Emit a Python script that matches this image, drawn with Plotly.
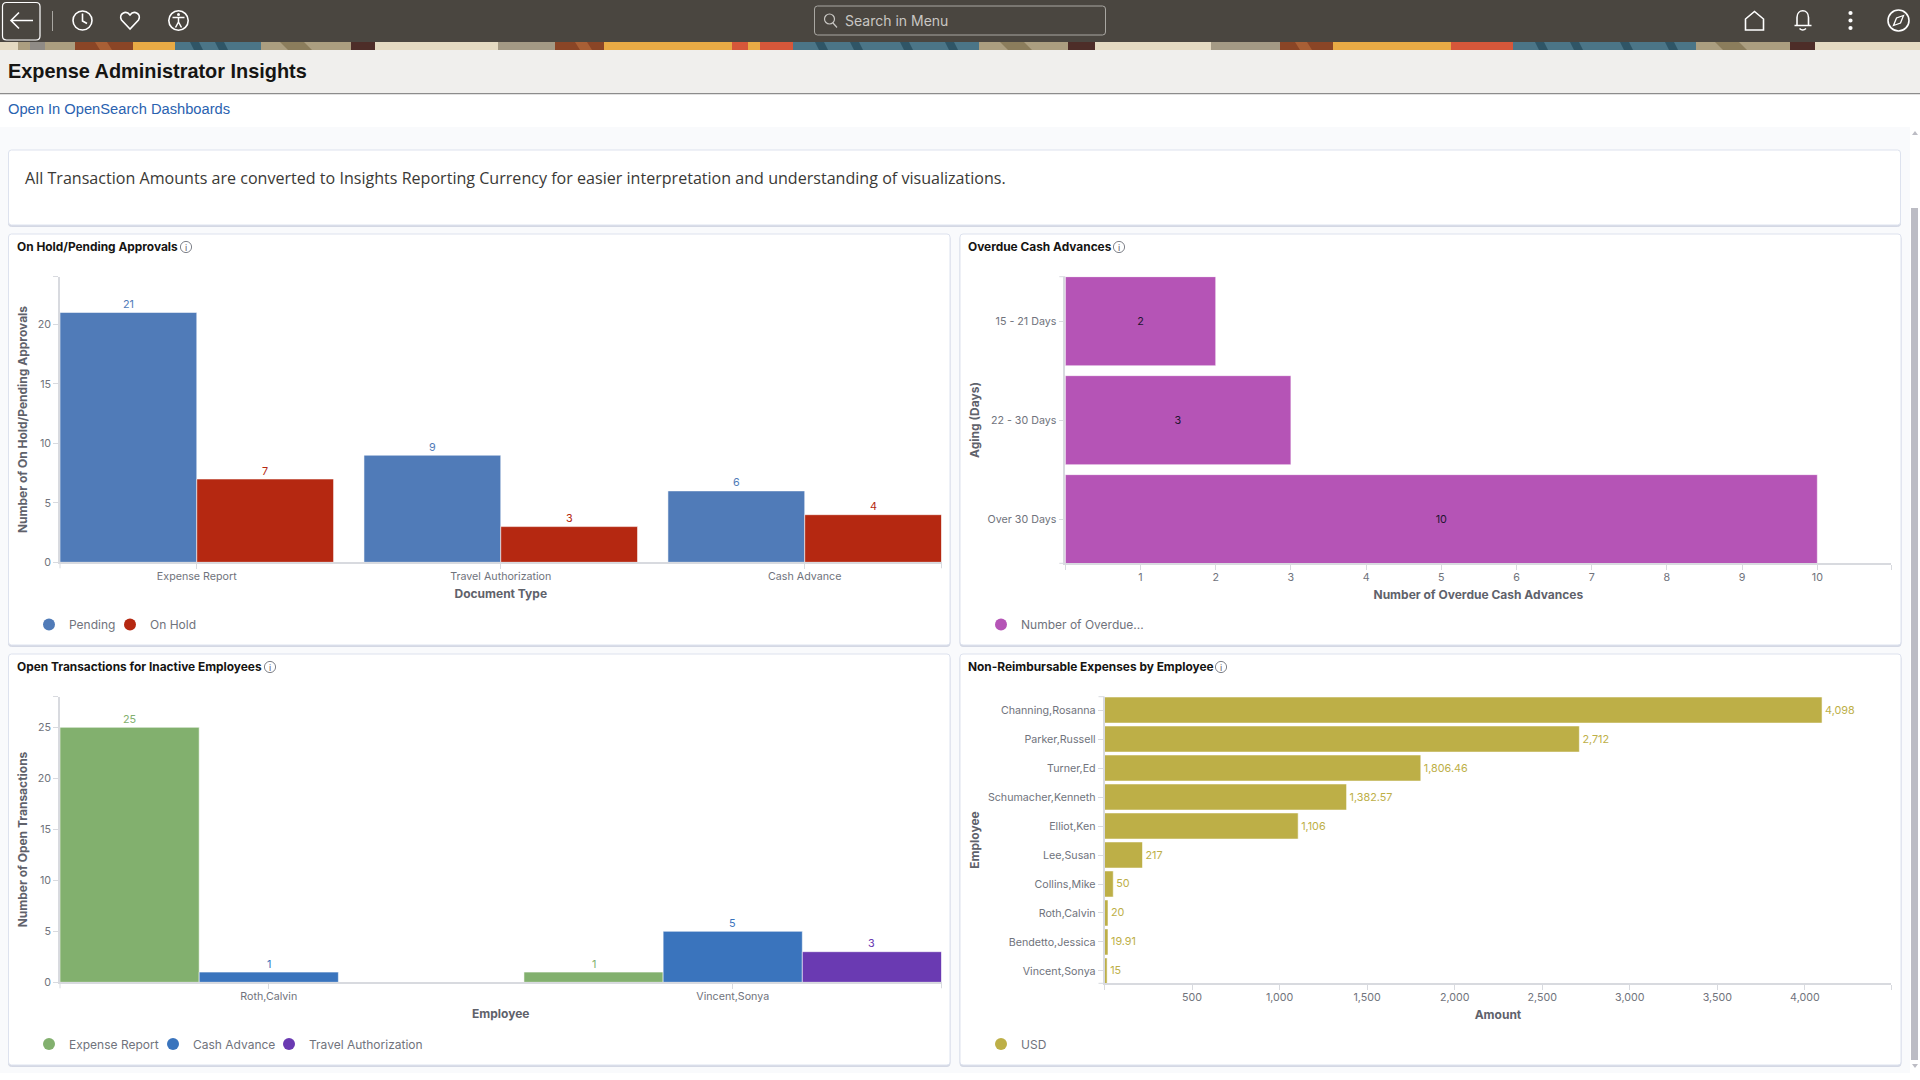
import plotly.graph_objects as go

# ---------- data ----------
doc_types = ["Expense Report", "Travel Authorization", "Cash Advance"]
pending = [21, 9, 6]
on_hold = [7, 3, 4]

aging = ["15 - 21 Days", "22 - 30 Days", "Over 30 Days"]
overdue = [2, 3, 10]

inactive_emps = ["Roth,Calvin", "Vincent,Sonya"]
open_expense = [25, 1]
open_cash = [1, 5]
open_travel = [None, 3]

employees = ["Channing,Rosanna", "Parker,Russell", "Turner,Ed", "Schumacher,Kenneth", "Elliot,Ken",
             "Lee,Susan", "Collins,Mike", "Roth,Calvin", "Bendetto,Jessica", "Vincent,Sonya"]
amounts = [4098, 2712, 1806.46, 1382.57, 1106, 217, 50, 20, 19.91, 15]

y1_ticks = [0, 5, 10, 15, 20]
x2_ticks = [1, 2, 3, 4, 5, 6, 7, 8, 9, 10]
y3_ticks = [0, 5, 10, 15, 20, 25]
x4_ticks = [500, 1000, 1500, 2000, 2500, 3000, 3500, 4000]

# ---------- style ----------
W, H = 1920, 1080
BLUE, RED, MAGENTA = "#507bb8", "#b52811", "#b554b6"
GREEN, CASH, VIOLET, OLIVE = "#82b06e", "#3a74bd", "#6a3ab2", "#bdaf47"
TICK = "#70737c"
AXIS_LINE = "#d8dadf"
TITLE_C = "#5f626b"
FONT = "Inter"
TICK_SIZE = 10.7
BARGAP = 0.1

RECT1 = (60, 941.5, 276.7, 562.3)
RECT2 = (1065.3, 1891.4, 276.7, 563.3)
RECT3 = (60, 941.5, 696.7, 982.3)
RECT4 = (1104.5, 1891.4, 696.7, 983.3)

def dom(rect):
    x0, x1, y0, y1 = rect
    return [x0 / W, x1 / W], [1 - y1 / H, 1 - y0 / H]

shapes, annos = [], []

def shp(**k):
    k.setdefault("xref", "x"); k.setdefault("yref", "y"); k.setdefault("layer", "below")
    shapes.append(k)

def rect(x0, y0, x1, y1, fill, line=None, lw=0):
    shp(type="rect", x0=x0, y0=y0, x1=x1, y1=y1, fillcolor=fill, line=dict(color=line or fill, width=lw))

def path(d, fill="rgba(0,0,0,0)", line="#ffffff", lw=1.6):
    shp(type="path", path=d, fillcolor=fill, line=dict(color=line, width=lw))

def rrect(x0, y0, x1, y1, r, fill, line, lw=1):
    path(f"M{x0+r},{y0} L{x1-r},{y0} Q{x1},{y0} {x1},{y0+r} L{x1},{y1-r} Q{x1},{y1} {x1-r},{y1} "
         f"L{x0+r},{y1} Q{x0},{y1} {x0},{y1-r} L{x0},{y0+r} Q{x0},{y0} {x0+r},{y0} Z", fill, line, lw)

def circle(cx, cy, r, fill="rgba(0,0,0,0)", line="#ffffff", lw=1.6):
    shp(type="circle", x0=cx - r, y0=cy - r, x1=cx + r, y1=cy + r, fillcolor=fill, line=dict(color=line, width=lw))

def txt(x, y, s, size, color, bold=False, family=FONT, anchor="left"):
    annos.append(dict(xref="x", yref="y", x=x, y=y, text=f"<b>{s}</b>" if bold else s, showarrow=False,
                      xanchor=anchor, yanchor="middle", font=dict(family=family, size=size, color=color)))

# page chrome
rect(0, 127, 1910, 1073, "#f9fafc")
rect(0, 0, W, 42, "#4a4640")
rect(0, 50, W, 93, "#f0efed")
rect(0, 93, W, 94.2, "#8c8c8c")

CREAM, TAN, GRAY, BROWN, ORANGE, TEAL, DARK, RD = ("#e4dac2", "#ab9e80", "#8f8b86", "#8a4526", "#e8aa45",
                                                   "#4b7587", "#4d2d28", "#d6573a")
banner = [(0, 18, CREAM), (18, 30, TAN), (30, 45, GRAY), (45, 75, TAN), (75, 133, BROWN), (133, 175, ORANGE),
          (175, 261, TEAL), (261, 351, TAN), (351, 375, DARK), (375, 498, CREAM), (498, 555, "#a49a85"),
          (555, 604, BROWN), (604, 732, ORANGE), (732, 748, RD), (748, 760, ORANGE), (760, 793, RD),
          (793, 979, TEAL), (979, 1068, TAN), (1068, 1095, DARK), (1095, 1211, CREAM), (1211, 1280, "#a49a85"),
          (1280, 1333, BROWN), (1333, 1451, ORANGE), (1451, 1513, RD), (1513, 1696, TEAL), (1696, 1790, TAN),
          (1790, 1815, DARK), (1815, 1920, CREAM)]
rect(0, 42, W, 50, CREAM)
for a, b, c in banner:
    rect(a, 42, b, 50, c)
for a in (190, 215, 815, 850, 900, 945, 1535, 1570, 1620, 1665):
    path(f"M{a},42 L{a+9},42 L{a+13},50 L{a+4},50 Z", "#2f5566", "#2f5566", 0)
for a in (95, 575, 1295):
    path(f"M{a},42 L{a+12},42 L{a+17},50 L{a+5},50 Z", "#a85f35", "#a85f35", 0)
for a in (280, 1000, 1715):
    path(f"M{a},42 L{a+24},42 L{a+32},50 L{a+8},50 Z", "#8b7d5c", "#8b7d5c", 0)

# nav icons
rrect(2.5, 2.5, 40, 40, 4, "rgba(0,0,0,0)", "#ffffff", 1.2)
path("M33,20.5 L11,20.5 M19,12.5 L11,20.5 L19,28.5")
shp(type="line", x0=52.5, y0=11, x1=52.5, y1=31, line=dict(color="#a9a7a2", width=1))
circle(82.5, 20.5, 9.5)
path("M82.5,13.5 L82.5,21 L87,23.5")
path("M130,29 L121.5,20 C118,14 126,9.5 130,15 C134,9.5 142,14 138.5,20 Z")
circle(178.5, 20.5, 9.7)
circle(178.5, 14.5, 1.5, "#ffffff", "#ffffff", 0)
path("M172.5,17.5 L184.5,17.5 M178.5,18 L178.5,22 M175.5,27.5 L178.5,22 L181.5,27.5", lw=1.5)
rrect(814.5, 6, 1105.5, 35, 3, "rgba(0,0,0,0)", "#a9a7a2", 1)
circle(829.5, 19, 5, lw=1.2, line="#c9c7c3")
path("M833,23 L837,27.5", line="#c9c7c3", lw=1.2)
txt(843, 20.5, "Search in Menu", 14, "#c9c7c3")
path("M1745.5,30 L1745.5,19 L1754.5,11.5 L1763.5,19 L1763.5,30 Z")
path("M1794.5,25.5 L1811.5,25.5 M1797,25 L1797,17.5 C1797,8.5 1808.5,8.5 1808.5,17.5 L1808.5,25 M1799.5,28.5 Q1802.7,31.5 1806,28.5")
for dy in (13, 20.5, 28):
    circle(1850.5, dy, 2.1, "#ffffff", "#ffffff", 0)
circle(1898.5, 20.5, 10.5)
path("M1903.5,15.5 L1900.5,23 L1893.5,25.5 L1896.5,18 Z", "rgba(0,0,0,0)", "#ffffff", 1.3)

txt(5.5, 71, "Expense Administrator Insights", 19.9, "#161513", True, "Liberation Sans")
txt(5.5, 108.5, "Open In OpenSearch Dashboards", 14.7, "#2a62b0", False, "Liberation Sans")

# scrollbar
rect(1911, 208, 1918, 1060, "#bcbcc4")
path("M1912,135 L1915,131 L1918,135 Z", "#bcbcc4", "#bcbcc4", 0)
path("M1912,1064 L1915,1068 L1918,1064 Z", "#bcbcc4", "#bcbcc4", 0)

# cards
CARD_LINE = "#dde2ee"
for c in [(8.5, 150, 1900.5, 225), (8.5, 234, 950, 645), (960, 234, 1901, 645), (8.5, 654, 950, 1065), (960, 654, 1901, 1065)]:
    rrect(c[0], c[1] + 1.5, c[2], c[3] + 1.5, 3, "#d4d8e4", "#d4d8e4", 1)
    rrect(c[0], c[1], c[2], c[3], 3, "#ffffff", CARD_LINE, 1)
txt(22.5, 178, "All Transaction Amounts are converted to Insights Reporting Currency for easier interpretation and understanding of visualizations.",
    16.08, "#3a3936", False, "Open Sans")

for x, y, t, ix in [(15, 246.5, "On Hold/Pending Approvals", 186), (966, 246.5, "Overdue Cash Advances", 1119),
                    (15, 666.5, "Open Transactions for Inactive Employees", 270), (966, 666.5, "Non-Reimbursable Expenses by Employee", 1221)]:
    txt(x, y, t, 11.9, "#161513", True)
    circle(ix, y + 0.5, 5.6, "#ffffff", "#7f828a", 1)
    txt(ix, y + 0.5, "i", 9, "#5f626b", False, FONT, "center")

# end-of-axis ticks of the category axes
for r in (RECT1, RECT3):
    for x in (r[0], r[1]):
        shp(type="line", x0=x, x1=x, y0=r[3], y1=r[3] + 6, line=dict(color=AXIS_LINE, width=1))
for r in (RECT2, RECT4):
    for y in (r[2], r[3]):
        shp(type="line", x0=r[0] - 6, x1=r[0], y0=y, y1=y, line=dict(color=AXIS_LINE, width=1))

BAR_EDGE = dict(color="rgba(255,255,255,0.55)", width=1)
LABEL = 10.8

fig = go.Figure()
# full-page pixel frame for the page furniture
fig.add_trace(go.Scatter(x=[None], y=[None], xaxis="x", yaxis="y", showlegend=False, hoverinfo="skip"))

legend_slots = {}

def legend_key(name, color, xa, ya, at):
    lg = "legend" if not legend_slots else f"legend{len(legend_slots) + 1}"
    legend_slots[lg] = at
    fig.add_trace(go.Scatter(x=[None], y=[None], mode="markers", name=name, xaxis=xa, yaxis=ya, legend=lg,
                             marker=dict(color=color, size=12, symbol="circle")))

def group(cats, series, xa, ya):
    """Grouped columns; each value label sits just above its bar, at the bar's own slot on the axis."""
    n = len(series)
    slot = (1 - BARGAP) / n
    for j, (name, vals, color) in enumerate(series):
        fig.add_trace(go.Bar(x=cats, y=vals, name=name, marker=dict(color=color, line=BAR_EDGE), xaxis=xa, yaxis=ya,
                             showlegend=False))
        for i, v in enumerate(vals):
            if v is not None:
                annos.append(dict(xref=xa, yref=ya, x=i + (j - (n - 1) / 2) * slot, y=v, text=str(v), showarrow=False,
                                  xanchor="center", yanchor="middle", yshift=8,
                                  font=dict(family=FONT, size=LABEL, color=color)))

group(doc_types, [("Pending", pending, BLUE), ("On Hold", on_hold, RED)], "x2", "y2")
legend_key("Pending", BLUE, "x2", "y2", (29, 624.5))
legend_key("On Hold", RED, "x2", "y2", (110, 624.5))

fig.add_trace(go.Bar(x=overdue, y=aging, orientation="h", name="Number of Overdue...", showlegend=False,
                     marker=dict(color=MAGENTA, line=BAR_EDGE), xaxis="x3", yaxis="y3",
                     text=[str(v) for v in overdue], textposition="inside", insidetextanchor="middle",
                     textangle=0, textfont=dict(color="#1f1430", size=LABEL, family=FONT)))
legend_key("Number of Overdue...", MAGENTA, "x3", "y3", (981, 624.5))

group(inactive_emps, [("Expense Report", open_expense, GREEN), ("Cash Advance", open_cash, CASH),
                      ("Travel Authorization", open_travel, VIOLET)], "x4", "y4")
legend_key("Expense Report", GREEN, "x4", "y4", (29, 1044))
legend_key("Cash Advance", CASH, "x4", "y4", (153, 1044))
legend_key("Travel Authorization", VIOLET, "x4", "y4", (269, 1044))

fig.add_trace(go.Bar(x=amounts, y=employees, orientation="h", name="USD", showlegend=False,
                     marker=dict(color=OLIVE, line=BAR_EDGE), xaxis="x5", yaxis="y5",
                     text=[f"{v:,g}" for v in amounts], textposition="outside", cliponaxis=False,
                     textfont=dict(color=OLIVE, size=LABEL, family=FONT)))
legend_key("USD", OLIVE, "x5", "y5", (981, 1044))

def axis(title, standoff, **k):
    a = dict(showgrid=False, zeroline=False, showline=True, linecolor=AXIS_LINE, linewidth=1.5,
             ticks="outside", ticklen=5, tickcolor=AXIS_LINE, tickfont=dict(family=FONT, size=TICK_SIZE, color=TICK),
             title=dict(text=f"<b>{title}</b>", standoff=standoff, font=dict(family=FONT, size=12, color=TITLE_C)),
             fixedrange=True, automargin=False)
    a.update(k)
    return a

def with_ends(ticks, end):
    vals = [0] + [t for t in ticks if t != 0] + [end]
    text = [""] + [f"{t:,}" for t in ticks if t != 0] + [""]
    return vals, text

xd1, yd1 = dom(RECT1); xd2, yd2 = dom(RECT2); xd3, yd3 = dom(RECT3); xd4, yd4 = dom(RECT4)
XOUT = dict(ticklabelstandoff=-2)

v, t = with_ends(y1_ticks, 24)
t[0] = "0"
y2 = axis("Number of On Hold/Pending Approvals", 7.5, domain=yd1, anchor="x2", range=[0, 24], tickvals=v, ticktext=t)
x2 = axis("Document Type", 8, domain=xd1, anchor="y2", type="category", categoryorder="array", categoryarray=doc_types,
          range=[-0.45, 2.45], **XOUT)

v, t = with_ends(x2_ticks, 10.985)
x3 = axis("Number of Overdue Cash Advances", 8, domain=xd2, anchor="y3", range=[0, 10.985], tickvals=v, ticktext=t, **XOUT)
y3 = axis("Aging (Days)", 5.5, domain=yd2, anchor="x3", type="category", categoryorder="array", categoryarray=aging,
          range=[2.446, -0.45])

v, t = with_ends(y3_ticks, 28)
t[0] = "0"
y4 = axis("Number of Open Transactions", 7.5, domain=yd3, anchor="x4", range=[0, 28], tickvals=v, ticktext=t)
x4 = axis("Employee", 8, domain=xd3, anchor="y4", type="category", categoryorder="array", categoryarray=inactive_emps,
          range=[-0.45, 1.45], **XOUT)

v, t = with_ends(x4_ticks, 4494)
x5 = axis("Amount", 8, domain=xd4, anchor="y5", range=[0, 4494], tickvals=v, ticktext=t, **XOUT)
y5 = axis("Employee", 6, domain=yd4, anchor="x5", type="category", categoryorder="array", categoryarray=employees,
          range=[9.425, -0.46])

def legend_at(at):
    x, y = at
    return dict(orientation="h", x=x / W, y=1 - y / H, xanchor="left", yanchor="middle", bgcolor="rgba(0,0,0,0)",
                font=dict(family=FONT, size=12, color=TICK), itemclick=False, itemdoubleclick=False)

fig.update_layout(
    width=W, height=H, autosize=False, margin=dict(l=0, r=0, t=0, b=0, pad=0),
    paper_bgcolor="#ffffff", plot_bgcolor="rgba(0,0,0,0)", font=dict(family=FONT), barmode="group", bargap=BARGAP, bargroupgap=0,
    xaxis=dict(domain=[0, 1], range=[0, W], visible=False, fixedrange=True),
    yaxis=dict(domain=[0, 1], range=[H, 0], visible=False, fixedrange=True),
    xaxis2=x2, yaxis2=y2, xaxis3=x3, yaxis3=y3, xaxis4=x4, yaxis4=y4, xaxis5=x5, yaxis5=y5,
    shapes=shapes, annotations=annos,
    **{name: legend_at(at) for name, at in legend_slots.items()},
)

fig.write_html("out.html", config=dict(displayModeBar=False),
               post_script="document.body.style.margin='0';document.documentElement.style.overflow='hidden';")
